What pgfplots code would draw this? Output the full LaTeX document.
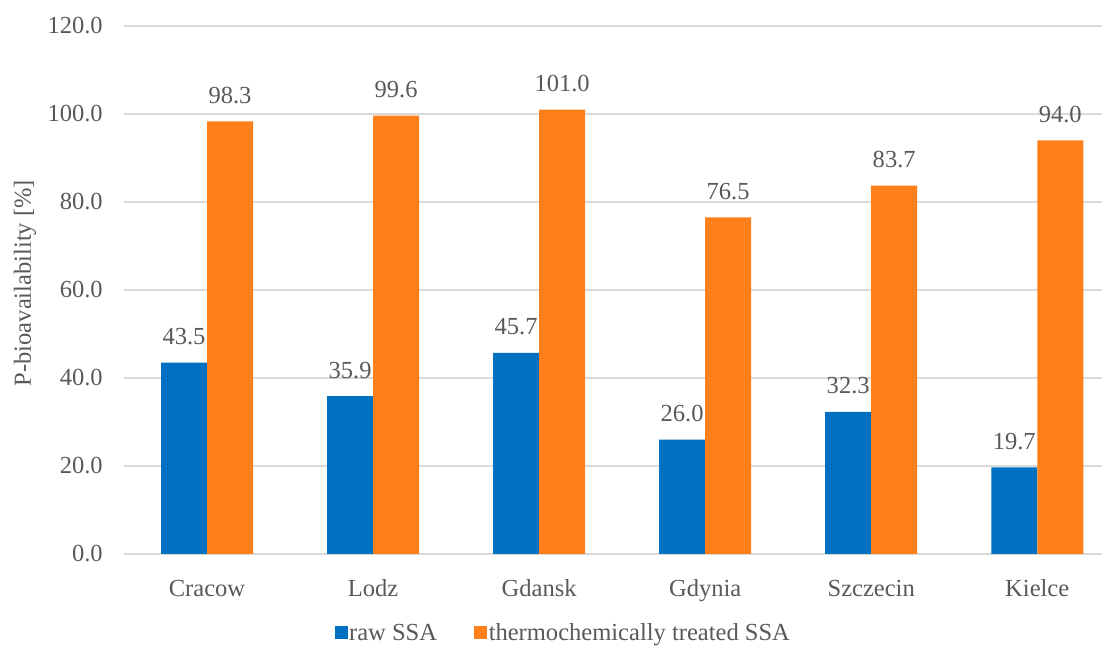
\documentclass[border=0pt]{standalone}
\usepackage{fontspec}
\setmainfont{Liberation Serif}
\usepackage{pgfplots}
\pgfplotsset{compat=1.18}
\definecolor{barblue}{HTML}{0070C0}
\definecolor{barorange}{HTML}{FF7F1A}
\definecolor{txt}{HTML}{595959}
\definecolor{gridc}{HTML}{D9D9D9}
\newcommand{\cf}{\fontsize{18.4}{22}\selectfont}
\begin{document}
\begin{tikzpicture}
\begin{axis}[
  scale only axis, width=733.5pt, height=396pt,
  xmin=-0.5, xmax=5.39, ymin=0, ymax=120,
  ybar=0pt, bar width=34.5pt,
  axis line style={draw=none},
  ytick={0,20,...,120},
  ymajorgrids, major grid style={gridc, line width=1.1pt},
  tick style={draw=none},
  xtick={0,1,2,3,4,5},
  xticklabels={Cracow,Lodz,Gdansk,Gdynia,Szczecin,Kielce},
  yticklabel={\pgfmathprintnumber[fixed,fixed zerofill,precision=1,assume math mode=true]{\tick}},
  yticklabel style={inner sep=0pt, anchor=east, xshift=-15.75pt, font=\cf, text=txt},
  xticklabel style={inner sep=0pt, anchor=north, yshift=-15pt, font=\cf, text=txt},
  ylabel={P-bioavailability [\%]},
  every axis y label/.style={at={(rel axis cs:-0.1012,0.513)}, anchor=center, rotate=90, font=\cf, text=txt},
  nodes near coords={\pgfmathprintnumber[fixed,fixed zerofill,precision=1,assume math mode=true]{\pgfplotspointmeta}},
  every node near coord/.append style={font=\cf, text=txt, anchor=south, inner sep=0pt, yshift=13pt},
  legend columns=-1,
  legend style={at={(rel axis cs:0.4489,-0.1496)}, anchor=center, draw=none, fill=none,
    nodes={inner sep=1pt, font=\cf, text=txt},
    /tikz/every even column/.append style={column sep=27pt}},
  legend image code/.code={\fill[#1] (0pt,-4.9pt) rectangle (9.75pt,4.9pt);},
]
\addplot[fill=barblue, draw=none] coordinates {(0,43.5) (1,35.9) (2,45.7) (3,26.0) (4,32.3) (5,19.7)};
\addplot[fill=barorange, draw=none] coordinates {(0,98.3) (1,99.6) (2,101.0) (3,76.5) (4,83.7) (5,94.0)};
\legend{raw SSA, thermochemically treated SSA}
\coordinate (bl) at (rel axis cs:-0.1268,-0.1761);
\coordinate (tr) at (rel axis cs:1,1.0492);
\end{axis}
\pgfresetboundingbox
\path[use as bounding box] (bl) rectangle (tr);
\end{tikzpicture}
\end{document}
